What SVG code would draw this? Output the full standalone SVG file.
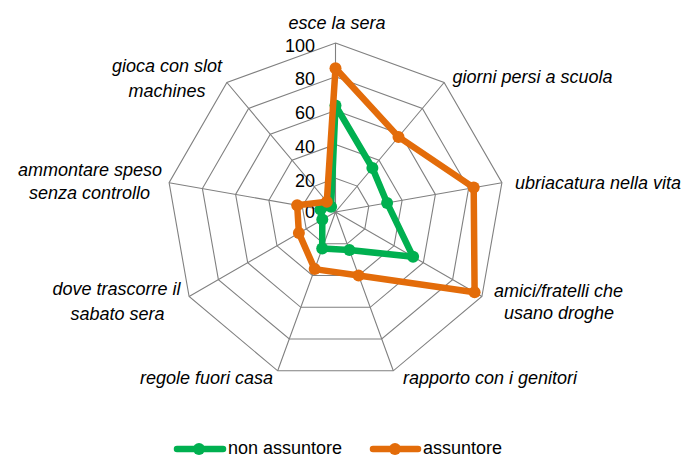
<svg xmlns="http://www.w3.org/2000/svg" width="688" height="457" viewBox="0 0 688 457">
<style>
.grid{fill:none;stroke:#808080;stroke-width:1.1}
.lbl{font-family:"Liberation Sans",Arial,sans-serif;font-size:18px;font-style:italic;fill:#000;text-anchor:middle}
.num{font-family:"Liberation Sans",Arial,sans-serif;font-size:18px;fill:#000;text-anchor:end}
.leg{font-family:"Liberation Sans",Arial,sans-serif;font-size:18px;fill:#000}
.g{stroke:#00B050;fill:none;stroke-width:6.5;stroke-linejoin:round;stroke-linecap:round}
.o{stroke:#E36C0A;fill:none;stroke-width:6.5;stroke-linejoin:round;stroke-linecap:round}
.gm{fill:#00B050}
.om{fill:#E36C0A}
</style>
<rect width="688" height="457" fill="#fff"/>
<g id="grid">
<polygon class="grid" points="335.5,43 444.1,82.5 501.9,182.7 481.9,296.5 393.3,370.8 277.7,370.8 189.1,296.5 169.1,182.7 226.9,82.5"/>
<polygon class="grid" points="335.5,76.8 422.4,108.4 468.6,188.5 452.6,279.6 381.7,339 289.3,339 218.4,279.6 202.4,188.5 248.6,108.4"/>
<polygon class="grid" points="335.5,110.6 400.7,134.3 435.4,194.4 423.3,262.7 370.2,307.3 300.8,307.3 247.7,262.7 235.6,194.4 270.3,134.3"/>
<polygon class="grid" points="335.5,144.4 379,160.2 402.1,200.3 394,245.8 358.6,275.5 312.4,275.5 277,245.8 268.9,200.3 292,160.2"/>
<polygon class="grid" points="335.5,178.2 357.2,186.1 368.8,206.1 364.8,228.9 347.1,243.8 323.9,243.8 306.2,228.9 302.2,206.1 314.8,186.1"/>
<path class="grid" d="M335.5,212L335.5,43M335.5,212L444.1,82.5M335.5,212L501.9,182.7M335.5,212L481.9,296.5M335.5,212L393.3,370.8M335.5,212L277.7,370.8M335.5,212L189.1,296.5M335.5,212L169.1,182.7M335.5,212L226.9,82.5"/>
</g>
<g id="scale">
<text class="num" x="315" y="52">100</text>
<text class="num" x="315" y="85">80</text>
<text class="num" x="315" y="118.5">60</text>
<text class="num" x="315" y="153">40</text>
<text class="num" x="315" y="187">20</text>
<text class="num" x="315" y="218">0</text>
</g>
<g id="labels">
<g id="ax-esce"><text class="lbl" x="337" y="29">esce la sera</text></g>
<g id="ax-giorni"><text class="lbl" x="532.5" y="83">giorni persi a scuola</text></g>
<g id="ax-ubriacatura"><text class="lbl" x="598" y="189">ubriacatura nella vita</text></g>
<g id="ax-amici"><text class="lbl" x="558.5" y="297">amici/fratelli che</text><text class="lbl" x="559" y="318.5">usano droghe</text></g>
<g id="ax-rapporto"><text class="lbl" x="490" y="384">rapporto con i genitori</text></g>
<g id="ax-regole"><text class="lbl" x="206.5" y="384">regole fuori casa</text></g>
<g id="ax-dove"><text class="lbl" x="116.5" y="295">dove trascorre il</text><text class="lbl" x="117.5" y="320">sabato sera</text></g>
<g id="ax-ammontare"><text class="lbl" x="90" y="176">ammontare speso</text><text class="lbl" x="89.5" y="199">senza controllo</text></g>
<g id="ax-gioca"><text class="lbl" x="167" y="72">gioca con slot</text><text class="lbl" x="167" y="96.5">machines</text></g>
</g>
<g id="series-non-assuntore">
<polygon class="g" points="335.5,105.5 372.4,168 387.1,202.9 413.1,256.8 349.4,250.1 322.2,248.5 322.3,219.6 320.5,209.4 331.1,206.8"/>
<g class="gm">
<circle cx="335.5" cy="105.5" r="6"/><circle cx="372.4" cy="168" r="6"/><circle cx="387.1" cy="202.9" r="6"/><circle cx="413.1" cy="256.8" r="6"/><circle cx="349.4" cy="250.1" r="6"/><circle cx="322.2" cy="248.5" r="6"/><circle cx="322.3" cy="219.6" r="6"/><circle cx="320.5" cy="209.4" r="6"/><circle cx="331.1" cy="206.8" r="6"/>
</g>
</g>
<g id="series-assuntore">
<polygon class="o" points="335.5,68.3 398.5,136.9 473.7,187.6 474.6,292.3 358.6,275.5 314.7,269.1 298.9,233.1 297.2,205.2 326.8,201.7"/>
<g class="om">
<circle cx="335.5" cy="68.3" r="6"/><circle cx="398.5" cy="136.9" r="6"/><circle cx="473.7" cy="187.6" r="6"/><circle cx="474.6" cy="292.3" r="6"/><circle cx="358.6" cy="275.5" r="6"/><circle cx="314.7" cy="269.1" r="6"/><circle cx="298.9" cy="233.1" r="6"/><circle cx="297.2" cy="205.2" r="6"/><circle cx="326.8" cy="201.7" r="6"/>
</g>
</g>
<g id="legend">
<line class="g" x1="177" y1="449" x2="223" y2="449"/><circle class="gm" cx="199" cy="449" r="6"/>
<text class="leg" x="228" y="453.5">non assuntore</text>
<line class="o" x1="373" y1="449" x2="418" y2="449"/><circle class="om" cx="395" cy="449" r="6"/>
<text class="leg" x="423" y="453.5">assuntore</text>
</g>
</svg>
